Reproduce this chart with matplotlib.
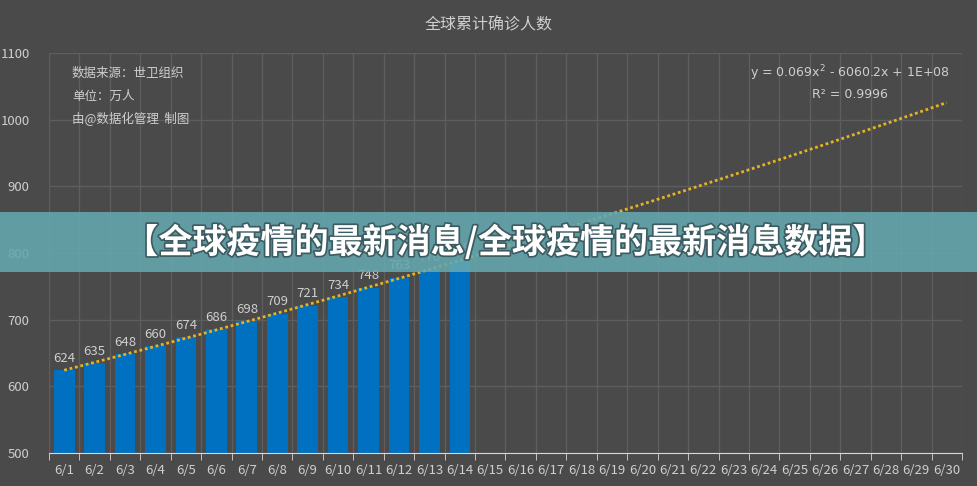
import numpy as np
import matplotlib
matplotlib.use('Agg')
import matplotlib.pyplot as plt
import matplotlib.patheffects as pe
from matplotlib.patches import Rectangle

plt.rcParams['font.family'] = ['Noto Sans CJK SC', 'DejaVu Sans']

# data
dates = ['6/%d' % d for d in range(1, 31)]
confirmed = [624, 635, 648, 660, 674, 686, 698, 709, 721, 734, 748, 763, 776, 789]
title = '全球累计确诊人数'
notes = ['数据来源：世卫组织', '单位：万人', '由@数据化管理  制图']
equation = 'y = 0.069x$^2$ - 6060.2x + 1E+08'
r2_text = 'R² = 0.9996'
banner = '【全球疫情的最新消息/全球疫情的最新消息数据】'

bg = '#4a4a4a'
txt = '#cfcfcf'

fig = plt.figure(figsize=(9.78, 4.86), dpi=100, facecolor=bg)
ax = fig.add_axes([49/978, 1-453/486, (962-49)/978, 400/486])
ax.set_facecolor(bg)

x_all = np.arange(len(dates))
x_bar = np.arange(len(confirmed))
ax.bar(x_bar, confirmed, width=0.68, color='#0070c0', zorder=3)
for xi, v in zip(x_bar, confirmed):
    ax.text(xi, v + 8, str(v), ha='center', va='bottom', color=txt, fontsize=9.5, zorder=4)

# polynomial trend line (order 2) fitted on the bars
coef = np.polyfit(x_bar, confirmed, 2)
trend = np.polyval(coef, x_all)
ax.plot(x_all, trend, linestyle=(0, (1, 1)), color='#e6b422', lw=2, zorder=5)

ax.set_xlim(-0.5, len(dates) - 0.5)
ax.set_ylim(500, 1100)
ax.set_yticks(range(500, 1101, 100))
ax.set_xticks(x_all)
ax.set_xticklabels(dates)
ax.set_xticks(np.arange(-0.5, len(dates)), minor=True)
ax.tick_params(axis='x', which='major', length=0, colors=txt, labelsize=9.5, pad=8)
ax.tick_params(axis='x', which='minor', length=5, color='#d8d8d8', direction='out')
ax.tick_params(axis='y', length=0, colors=txt, labelsize=9.5, pad=14)
ax.grid(axis='y', color='#5e5e5e', lw=1, zorder=0)
ax.grid(axis='x', which='minor', color='#5e5e5e', lw=1, zorder=0)
for s in ['left', 'right', 'top']:
    ax.spines[s].set_visible(False)
ax.spines['bottom'].set_color('#d8d8d8')
ax.spines['bottom'].set_zorder(6)

fig.text(489/978, 1-25/486, title, ha='center', va='center', color=txt, fontsize=11.5)
for i, n in enumerate(notes):
    fig.text(72/978, 1-(73 + 23*i)/486, n, ha='left', va='center', color=txt, fontsize=9)
fig.text(850/978, 1-73/486, equation, ha='center', va='center', color=txt, fontsize=9,
         family=['DejaVu Sans'])
fig.text(850/978, 1-94/486, r2_text, ha='center', va='center', color=txt, fontsize=9,
         family=['DejaVu Sans'])

# banner
fig.patches.append(Rectangle((0, 1-272/486), 1, 60/486, transform=fig.transFigure,
                             facecolor='#66a8b0', alpha=0.88, edgecolor='none', zorder=10))
fig.text(505/978, 1-242/486, banner, ha='center', va='center', color='white', fontsize=24.5,
         weight='heavy', zorder=11,
         path_effects=[pe.withStroke(linewidth=2.5, foreground='#3d5c62')])

fig.savefig('out.png', dpi=100, facecolor=bg)
